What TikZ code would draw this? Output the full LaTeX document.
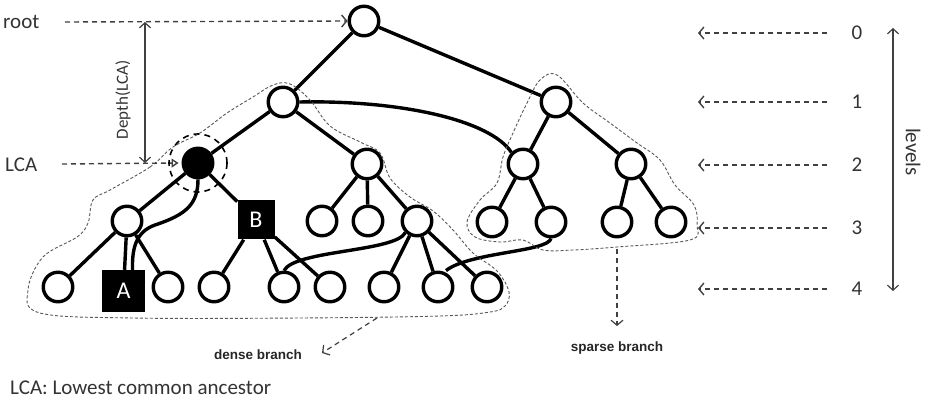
\documentclass[tikz,border=0pt]{standalone}
\usepackage{fontspec}
\setmainfont{Carlito}
\newfontfamily\arialb{Liberation Sans}
\usetikzlibrary{arrows.meta}
\begin{document}
\begin{tikzpicture}[x=1pt,y=-1pt,
  tn/.style={circle,draw,line width=3.4pt,minimum size=29.5pt,inner sep=0pt,fill=white},
  sq/.style={rectangle,fill=black,text=white,inner sep=0pt,font=\fontsize{24}{24}\selectfont},
  ed/.style={line width=3.4pt},
  cont/.style={line width=0.9pt,draw=black!65,dash pattern=on 3pt off 2pt},
  lv/.style={line width=1.4pt,draw=black!75,dash pattern=on 5pt off 4pt},
  barb/.style={-{Straight Barb[length=5pt,width=12pt]}},
  lbl/.style={font=\fontsize{21}{21}\selectfont,text=black!80},
  brl/.style={font=\arialb\bfseries\fontsize{13.5}{14}\selectfont,text=black!85}
]
\useasboundingbox[fill=white] (0,0) rectangle (929,406);

% tree nodes
\node[tn] (root) at (364,21) {};
\node[tn] (L1) at (283,102) {};
\node[tn] (R1) at (556,102) {};
\node[tn,fill=black] (LCA) at (198,163) {};
\node[tn] (M2) at (367,164) {};
\node[tn] (RA) at (523,164) {};
\node[tn] (RB) at (631,164) {};
\node[tn] (C3a) at (127,221) {};
\node[sq,minimum width=37pt,minimum height=39pt] (B) at (256,220) {B};
\node[tn] (M3a) at (322,221) {};
\node[tn] (M3b) at (368,221) {};
\node[tn] (M3c) at (417,221) {};
\node[tn] (RAa) at (492,222) {};
\node[tn] (RAb) at (551,222) {};
\node[tn] (RBa) at (617,222) {};
\node[tn] (RBb) at (671,222) {};
\node[tn] (D1) at (58,287) {};
\node[sq,minimum width=43pt,minimum height=42pt] (A) at (123.5,291) {A};
\node[tn] (D3) at (168,287) {};
\node[tn] (D4) at (214,287) {};
\node[tn] (D5) at (284,287) {};
\node[tn] (D6) at (330,287) {};
\node[tn] (D7) at (384,287) {};
\node[tn] (D8) at (438,287) {};
\node[tn] (D9) at (487,287) {};

% tree edges
\draw[ed] (root) -- (L1);
\draw[ed] (root) -- (R1);
\draw[ed] (L1) -- (LCA);
\draw[ed] (L1) -- (M2);
\draw[ed] (L1.east) .. controls (400,100) and (490,120) .. (RA.north west);
\draw[ed] (R1) -- (RA);
\draw[ed] (R1) -- (RB);
\draw[ed] (RA) -- (RAa);
\draw[ed] (RA) -- (RAb);
\draw[ed] (RB) -- (RBa);
\draw[ed] (RB) -- (RBb);
\draw[ed] (LCA) -- (C3a);
\draw[ed] (LCA) -- (B);
\draw[ed] (M2) -- (M3a);
\draw[ed] (M2) -- (M3b);
\draw[ed] (M2) -- (M3c);
\draw[ed] (C3a) -- (D1);
\draw[ed] (C3a) -- (A);
\draw[ed] (C3a) -- (D3);
\draw[ed] (B) -- (D4);
\draw[ed] (B) -- (D5);
\draw[ed] (B) -- (D6);
\draw[ed] (M3c) -- (D7);
\draw[ed] (M3c) -- (D8);
\draw[ed] (M3c) -- (D9);
\draw[ed] (LCA.south) .. controls (198,205) and (185,215) .. (155,225)
      .. controls (135,232) and (132,250) .. ([xshift=9pt]A.north);
\draw[ed] (M3c.south west) .. controls (395,252) and (295,250) .. (D5.north);
\draw[ed] (RAb.south) .. controls (548,252) and (470,252) .. ([xshift=8pt]D8.north);

% dashed circle around LCA
\draw[line width=1.6pt,dash pattern=on 6pt off 5pt] (LCA.center) circle[radius=29pt];

% contours
\draw[cont] plot[smooth cycle,tension=0.6] coordinates {
 (110,190) (150,167) (173,147) (200,133) (227,113) (253,97) (273,85) (290,84)
 (310,100) (330,126) (360,142) (380,153) (390,178) (410,197) (433,211) (453,230)
 (473,253) (497,271) (509,292) (505,306) (490,312) (440,316) (300,318) (133,318)
 (40,313) (28,290) (43,257) (77,237) (88,223) (93,200)};
\draw[cont] plot[smooth cycle,tension=0.6] coordinates {
 (557,75) (583,103) (610,123) (637,143) (660,160) (675,185) (694,205) (697,225)
 (690,240) (617,247) (573,250) (543,250) (523,240) (500,242) (475,237) (467,222)
 (480,200) (497,183) (503,157) (513,133) (527,103) (540,80)};

% left labels
\node[lbl,anchor=west,inner sep=0pt] (troot) at (3,22) {root};
\node[lbl,anchor=west,inner sep=0pt] (tlca) at (5,165) {LCA};
\coordinate (rs) at (65,22);
\coordinate (ls) at (62,164);
\draw[lv,barb] (rs) -- (root.west);
\draw[lv,-{Triangle[open,length=7pt,width=9pt]}] (ls) -- ([xshift=-3pt]LCA.west);
\coordinate (dtop) at (145,22);
\coordinate (dbot) at (145,163);
\draw[line width=1.2pt,black!75,{Straight Barb[length=5pt,width=11pt]}-{Straight Barb[length=5pt,width=11pt]}] (dtop) -- (dbot);
\node[rotate=90,font=\fontsize{17}{17}\selectfont,text=black!80] (tdepth) at (123,100) {Depth(LCA)};

% level labels
\foreach \i/\yy in {0/33,1/102,2/165,3/228,4/289}{
  \node[lbl] (n\i) at (857,\yy) {\i};
  \coordinate (s\i) at (827,\yy);
  \coordinate (e\i) at (698,\yy);
  \draw[lv,barb] (s\i) -- (e\i);
}
\coordinate (vt) at (893,28);
\coordinate (vb) at (893,291);
\draw[line width=1.2pt,black!75,{Straight Barb[length=5pt,width=11pt]}-{Straight Barb[length=5pt,width=11pt]}] (vt) -- (vb);
\node[lbl,rotate=-90] (tlevels) at (913,152) {levels};

% branch labels
\coordinate (dstart) at (377,318);
\coordinate (dend) at (322,353);
\draw[lv,line width=1.2pt,barb] (dstart) -- (dend);
\node[brl] (tdense) at (258,355) {dense branch};
\coordinate (sstart) at (617,249);
\coordinate (send) at (617,326);
\draw[lv,line width=1.2pt,barb] (sstart) -- (send);
\node[brl] (tsparse) at (617,348) {sparse branch};

\node[lbl,anchor=west,inner sep=0pt] (tnote) at (10,388) {LCA: Lowest common ancestor};
\end{tikzpicture}
\end{document}
